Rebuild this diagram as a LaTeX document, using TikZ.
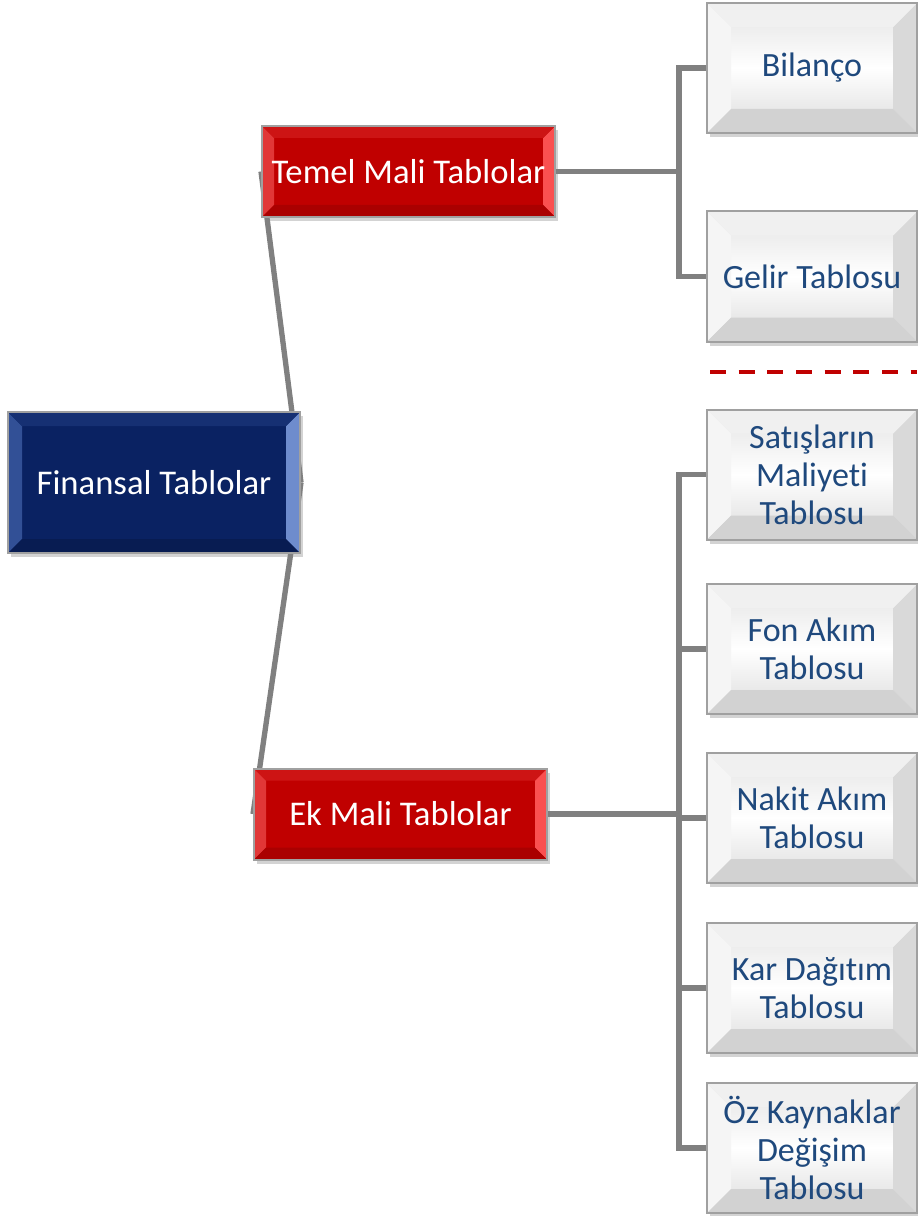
\documentclass[tikz,border=0pt]{standalone}
\usepackage{fontspec}
\setmainfont{Carlito}[Ligatures=NoCommon]
\usetikzlibrary{backgrounds,shadows}
\definecolor{navy}{RGB}{10,34,98}
\definecolor{navyL}{RGB}{50,80,150}
\definecolor{navyR}{RGB}{110,140,205}
\definecolor{navyT}{RGB}{22,48,115}
\definecolor{navyB}{RGB}{8,28,82}
\definecolor{rd}{RGB}{192,0,0}
\definecolor{rdL}{RGB}{225,55,55}
\definecolor{rdR}{RGB}{250,80,80}
\definecolor{rdT}{RGB}{205,20,20}
\definecolor{rdB}{RGB}{170,0,0}
\definecolor{txtblue}{RGB}{31,73,125}
\definecolor{linegray}{RGB}{128,128,128}
\definecolor{bordergray}{RGB}{160,160,160}
\definecolor{dashred}{RGB}{192,0,0}
\newcommand{\bevelpic}[5]{%
  \fill[#2] (path picture bounding box.north west) -- ++(#1,#1) -- ([shift={(#1,-#1)}]path picture bounding box.south west) -- (path picture bounding box.south west) -- cycle;
  \fill[#3] (path picture bounding box.north east) -- ++(-#1,#1) -- ([shift={(-#1,-#1)}]path picture bounding box.south east) -- (path picture bounding box.south east) -- cycle;
  \fill[#4] (path picture bounding box.north west) -- ++(#1,#1) -- ([shift={(-#1,#1)}]path picture bounding box.north east) -- (path picture bounding box.north east) -- cycle;
  \fill[#5] (path picture bounding box.south west) -- ++(#1,-#1) -- ([shift={(-#1,-#1)}]path picture bounding box.south east) -- (path picture bounding box.south east) -- cycle;
}
\tikzset{
  every node/.style={inner sep=0pt},
  basebox/.style={draw=bordergray, line width=1.5pt, drop shadow={opacity=0.35, shadow xshift=2pt, shadow yshift=-3pt}},
  bluebox/.style={basebox, fill=navy, text=white, minimum width=292*0.75pt, minimum height=141*0.75pt,
     font=\fontsize{26}{31}\selectfont,
     path picture={\bevelpic{14}{navyL}{navyR}{navyT}{navyB}}},
  redbox/.style={basebox, fill=rd, text=white, minimum width=293*0.75pt, minimum height=91*0.75pt,
     font=\fontsize{26}{31}\selectfont,
     path picture={\bevelpic{12}{rdL}{rdR}{rdT}{rdB}}},
  graybox/.style={basebox, top color=gray!22, bottom color=gray!28, middle color=white, text=txtblue,
     minimum width=210*0.75pt, minimum height=130*0.75pt, align=center,
     font=\fontsize{25.5}{28.5}\selectfont,
     path picture={\bevelpic{24}{white!92!gray}{gray!30}{gray!12}{gray!35}}},
  conn/.style={draw=linegray, line width=4pt},
  sep/.style={draw=dashred, line width=3pt, dash pattern=on 12pt off 9.5pt},
}
\begin{document}
\begin{tikzpicture}[x=0.75pt,y=-0.75pt]
\useasboundingbox (0,0) rectangle (917,1216);
\node[bluebox] (fin) at (154,482.5) {Finansal Tablolar};
\node[redbox] (temel) at (408.5,171.5) {Temel Mali Tablolar};
\node[redbox] (ek) at (400.5,814) {Ek Mali Tablolar};
\node[graybox] (bil) at (812,68) {Bilanço};
\node[graybox] (gel) at (812,276.5) {Gelir Tablosu};
\node[graybox] (sat) at (812,474.5) {Satışların\\Maliyeti\\Tablosu};
\node[graybox] (fon) at (812,649) {Fon Akım\\Tablosu};
\node[graybox] (nak) at (812,818) {Nakit Akım\\Tablosu};
\node[graybox] (kar) at (812,988) {Kar Dağıtım\\Tablosu};
\node[graybox] (oz) at (812,1148) {Öz Kaynaklar\\Değişim\\Tablosu};
\coordinate (j1) at (679,171.5);
\coordinate (j2) at (679,814);
\coordinate (d1) at (710,372);
\coordinate (d2) at (917,372);
\begin{scope}[on background layer]
\draw[conn] (fin.east) -- (temel.west);
\draw[conn] (fin.east) -- (ek.west);
\draw[conn] (temel.east) -- (j1) |- (bil.west);
\draw[conn] (j1) |- (gel.west);
\draw[conn] (ek.east) -- (j2) |- (sat.west);
\draw[conn] (j2) |- (fon.west);
\draw[conn] (j2) |- (nak.west);
\draw[conn] (j2) |- (kar.west);
\draw[conn] (j2) |- (oz.west);
\end{scope}
\draw[sep] (d1) -- (d2);
\end{tikzpicture}
\end{document}
